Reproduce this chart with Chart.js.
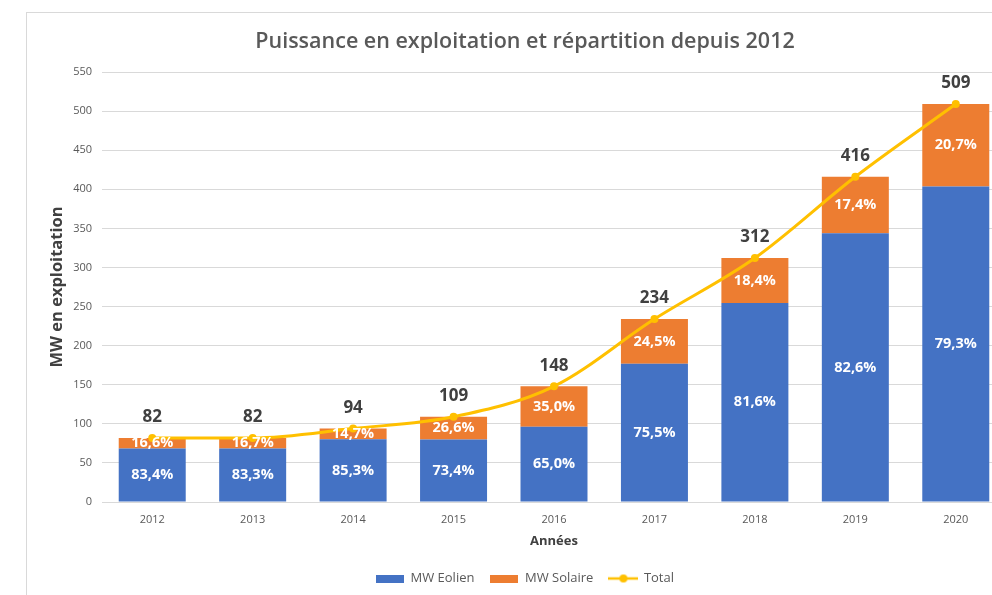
<!DOCTYPE html>
<html><head><meta charset="utf-8">
<script src="https://cdn.jsdelivr.net/npm/chart.js@4.4.1/dist/chart.umd.min.js"></script>
<style>
html,body{margin:0;padding:0;background:#fff;overflow:hidden;width:992px;height:595px;}
#frame{position:absolute;left:26px;top:12px;width:1000px;height:620px;border-left:1px solid #d9d9d9;border-top:1px solid #d9d9d9;}
#wrap{position:absolute;left:0;top:0;width:1010px;height:595px;}
</style></head><body>
<div id="frame"></div>
<div id="wrap"><canvas id="c" width="1010" height="595"></canvas></div>
<script>
// ---- data ----
const years = ['2012','2013','2014','2015','2016','2017','2018','2019','2020'];
const eolienMW = [68.4, 68.3, 80.2, 80.0, 96.2, 176.7, 254.6, 343.6, 403.6];
const solaireMW = [13.6, 13.7, 13.8, 29.0, 51.8, 57.3, 57.4, 72.4, 105.4];
const totalMW = [82, 82, 94, 109, 148, 234, 312, 416, 509];
const eolienPct = [83.4, 83.3, 85.3, 73.4, 65.0, 75.5, 81.6, 82.6, 79.3];
const solairePct = [16.6, 16.7, 14.7, 26.6, 35.0, 24.5, 18.4, 17.4, 20.7];
const yMin = 0, yMax = 550, yStep = 50;

const FONT = '"Open Sans", "DejaVu Sans", sans-serif';
const BLUE = '#4472C4', ORANGE = '#ED7D31', GOLD = '#FFC000';

function fmtPct(v){ return v.toFixed(1).replace('.', ',') + '%'; }

function rectIcon(color){
  const c = document.createElement('canvas'); c.width = 28; c.height = 8;
  const g = c.getContext('2d'); g.fillStyle = color; g.fillRect(0,0,28,8); return c;
}
function lineIcon(color){
  const c = document.createElement('canvas'); c.width = 30; c.height = 10;
  const g = c.getContext('2d'); g.strokeStyle = color; g.lineWidth = 2.5;
  g.beginPath(); g.moveTo(0,5); g.lineTo(30,5); g.stroke();
  g.fillStyle = color; g.beginPath(); g.arc(15,5,4,0,Math.PI*2); g.fill(); return c;
}
const legendIcons = [rectIcon(BLUE), rectIcon(ORANGE), lineIcon(GOLD)];

const labelPlugin = {
  id: 'valueLabels',
  afterDatasetsDraw(chart){
    const ctx = chart.ctx;
    ctx.save();
    ctx.textAlign = 'center'; ctx.textBaseline = 'middle';
    ctx.font = 'bold 14.5px ' + FONT; ctx.fillStyle = '#ffffff';
    [[0, eolienPct], [1, solairePct]].forEach(([di, pcts]) => {
      chart.getDatasetMeta(di).data.forEach((el, i) => {
        const p = el.getProps(['x','y','base'], true);
        ctx.fillText(fmtPct(pcts[i]), p.x, (p.y + p.base) / 2);
      });
    });
    ctx.font = 'bold 17px ' + FONT; ctx.fillStyle = '#404040';
    chart.getDatasetMeta(2).data.forEach((el, i) => {
      const p = el.getProps(['x','y'], true);
      ctx.fillText(String(totalMW[i]), p.x, p.y - 20.5);
    });
    ctx.restore();
  }
};

function build(){
  new Chart(document.getElementById('c'), {
    data: {
      labels: years,
      datasets: [
        {type:'bar', label:'MW Eolien', data: eolienMW, backgroundColor: BLUE, stack:'mw', order:1,
         barPercentage:0.667, categoryPercentage:1},
        {type:'bar', label:'MW Solaire', data: solaireMW, backgroundColor: ORANGE, stack:'mw', order:1,
         barPercentage:0.667, categoryPercentage:1},
        {type:'line', label:'Total', data: totalMW, borderColor: GOLD, backgroundColor: GOLD, borderWidth:3,
         pointRadius:4, pointBackgroundColor: GOLD, pointBorderWidth:0, cubicInterpolationMode:'monotone',
         stack:'total', order:0}
      ]
    },
    options: {
      responsive:false, animation:false, devicePixelRatio:1,
      layout:{padding:{left:43, right:3, top:0, bottom:0}},
      plugins:{
        tooltip:{enabled:false},
        title:{display:true, text:'Puissance en exploitation et répartition depuis 2012',
          color:'#595959', font:{family:FONT, size:21.5, weight:'600'}, padding:{top:29, bottom:17.2}},
        legend:{position:'bottom', labels:{
          usePointStyle:true, pointStyleWidth:28, boxHeight:8, padding:16, color:'#595959',
          font:{family:FONT, size:13},
          generateLabels(chart){
            return chart.data.datasets.map((ds, i) => ({
              text: ds.label, pointStyle: legendIcons[i], fillStyle: ds.backgroundColor,
              strokeStyle: ds.backgroundColor, lineWidth:0, hidden: !chart.isDatasetVisible(i),
              datasetIndex: i, fontColor:'#595959'
            }));
          }
        }}
      },
      scales:{
        x:{stacked:true, grid:{display:false}, border:{display:true, color:'#d9d9d9'},
          ticks:{color:'#595959', font:{family:FONT, size:11}, padding:3},
          title:{display:true, text:'Années', color:'#404040', font:{family:FONT, size:13, weight:'bold'}, padding:{top:0, bottom:7}},
          afterFit(s){ s.height = 54; }},
        y:{stacked:true, min:yMin, max:yMax,
          grid:{color:'#d9d9d9', drawTicks:false}, border:{display:false},
          ticks:{stepSize:yStep, color:'#595959', font:{family:FONT, size:11}, padding:10},
          title:{display:true, text:'MW en exploitation', color:'#404040', font:{family:FONT, size:16.5, weight:'bold'}, padding:{top:4, bottom:0}},
          afterFit(s){ s.width = 59; }}
      }
    },
    plugins:[labelPlugin]
  });
}
const ready = (document.fonts && document.fonts.load) ?
  Promise.all([document.fonts.load('13px "Open Sans"'), document.fonts.load('bold 13px "Open Sans"'), document.fonts.load('600 13px "Open Sans"')]).catch(()=>{}) :
  Promise.resolve();
ready.then(build, build);
</script>
</body></html>
